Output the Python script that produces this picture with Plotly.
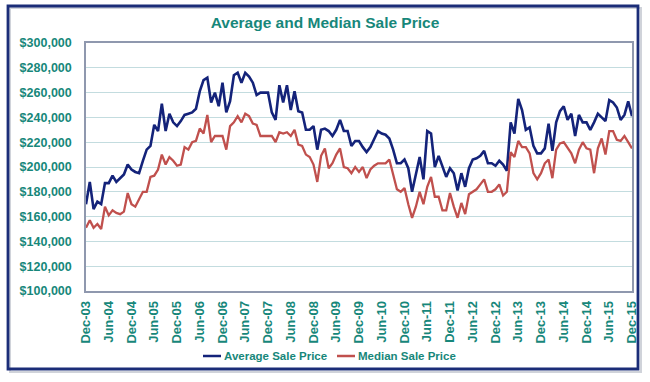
import pandas as pd
import plotly.graph_objects as go

# ---- data ----
months = pd.date_range("2003-12-01", periods=145, freq="MS").strftime("%b-%y").tolist()

average_price = [
    170, 188, 166, 172, 170, 187, 187, 193, 188, 191, 194, 202, 198,
    196, 195, 205, 214, 217, 234, 229, 251, 229, 243, 236, 233,
    237, 242, 243, 244, 247, 261, 270, 272, 252, 260, 249, 268,
    244, 253, 274, 276, 268, 276, 273, 268, 258, 260, 260, 260,
    244, 238, 266, 252, 266, 246, 261, 245, 244, 230, 230, 233,
    214, 230, 231, 229, 225, 230, 238, 229, 229, 217, 221, 221,
    216, 212, 216, 222, 229, 227, 226, 223, 214, 203, 203, 206,
    199, 180, 194, 208, 190, 229, 227, 200, 209, 200, 192, 199,
    195, 181, 195, 184, 199, 206, 207, 209, 213, 203, 203, 201,
    205, 202, 197, 236, 227, 255, 246, 230, 232, 217, 211, 211,
    215, 235, 213, 236, 245, 249, 238, 243, 225, 242, 236, 236,
    230, 236, 243, 240, 237, 254, 252, 248, 238, 242, 253, 241,
]
median_price = [
    151, 157, 151, 154, 150, 168, 161, 165, 163, 162, 164, 179, 170,
    168, 174, 180, 180, 192, 193, 198, 210, 202, 208, 205, 201,
    202, 216, 214, 220, 221, 231, 227, 242, 220, 225, 225, 225,
    214, 233, 236, 241, 236, 243, 241, 235, 234, 225, 225, 225,
    225, 220, 228, 227, 228, 225, 230, 218, 217, 210, 208, 202,
    188, 209, 215, 199, 203, 210, 215, 200, 199, 195, 200, 196,
    200, 191, 198, 201, 203, 203, 203, 206, 195, 182, 180, 183,
    170, 159, 168, 180, 170, 184, 192, 176, 176, 165, 165, 179,
    168, 159, 171, 162, 178, 180, 182, 186, 190, 180, 180, 182,
    186, 177, 180, 212, 208, 221, 216, 216, 211, 195, 190, 195,
    203, 206, 191, 214, 219, 220, 215, 211, 203, 214, 220, 215,
    214, 195, 215, 223, 210, 229, 229, 222, 221, 225, 220, 215,
]
average_price = [v * 1000 for v in average_price]
median_price = [v * 1000 for v in median_price]

tick_labels = months[::6]
series_names = ["Average Sale Price", "Median Sale Price"]

TEAL = "#17877a"
NAVY = "#14237a"
RED = "#c0504d"
FRAME = "#8f98ae"
GRID = "#c3dcdf"
FONT = "Liberation Sans, Arial, sans-serif"

fig = go.Figure()
fig.add_trace(go.Scatter(x=months, y=average_price, mode="lines",
                         name=series_names[0],
                         line=dict(color=NAVY, width=2.6)))
fig.add_trace(go.Scatter(x=months, y=median_price, mode="lines",
                         name=series_names[1],
                         line=dict(color=RED, width=2.3)))

L, R, T, B = 86, 18, 43, 91
W, H = 650, 382
pw, ph = W - L - R, H - T - B

def px(x):
    return (x - L) / pw

def py(y):
    return (H - B - y) / ph

# outer chart border with a faint shadow
fig.add_shape(type="rect", xref="paper", yref="paper",
              x0=px(10), x1=px(641), y0=py(372), y1=py(8),
              line=dict(color="#d0d3da", width=2), layer="below")
fig.add_shape(type="rect", xref="paper", yref="paper",
              x0=px(8), x1=px(638), y0=py(369), y1=py(6),
              line=dict(color="#1b2d78", width=2.8), layer="below")

# legend (drawn manually to match the short line samples)
legend_items = [(series_names[0], NAVY, 203), (series_names[1], RED, 337)]
for name, color, x0 in legend_items:
    fig.add_shape(type="line", xref="paper", yref="paper",
                  x0=px(x0), x1=px(x0 + 18), y0=py(356), y1=py(356),
                  line=dict(color=color, width=2.5))
    fig.add_annotation(xref="paper", yref="paper", x=px(x0 + 19), y=py(356),
                       xanchor="left", yanchor="middle", showarrow=False,
                       text=f"<b>{name}</b>",
                       font=dict(family=FONT, size=11.5, color=TEAL))

fig.update_layout(
    width=W, height=H,
    margin=dict(l=L, r=R, t=T, b=B),
    paper_bgcolor="white", plot_bgcolor="white",
    title=dict(text="<b>Average and Median Sale Price</b>",
               x=0.5, xanchor="center", y=1 - 23 / H, yanchor="middle",
               font=dict(family=FONT, size=15.5, color=TEAL)),
    showlegend=False,
    xaxis=dict(type="category", range=[0, 144],
               tickmode="array", tickvals=tick_labels, ticktext=tick_labels,
               tickangle=-90, showgrid=False,
               showline=True, linecolor=FRAME, linewidth=1.5, mirror=True,
               ticks="", ticklabelstandoff=3,
               tickfont=dict(family=FONT, size=13, color=TEAL, weight="bold")),
    yaxis=dict(range=[100000, 300000], dtick=20000, tickformat="$,.0f",
               showgrid=True, gridcolor=GRID, gridwidth=1.2,
               showline=True, linecolor=FRAME, linewidth=1.5, mirror=True,
               ticks="", zeroline=False, ticklabelstandoff=10,
               tickfont=dict(family=FONT, size=12.5, color=TEAL, weight="bold")),
)

fig.write_html("out.html", config={"displayModeBar": False},
               post_script="document.body.style.margin='0';document.body.style.overflow='hidden';")
